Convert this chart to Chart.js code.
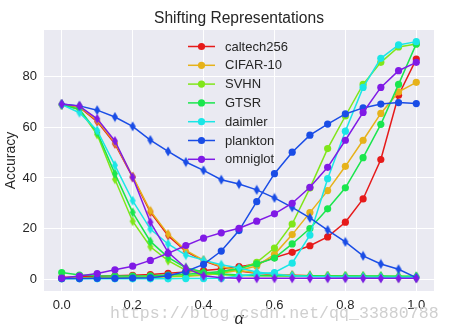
<!DOCTYPE html>
<html>
<head>
<meta charset="utf-8">
<title>Shifting Representations</title>
<script src="https://cdn.jsdelivr.net/npm/chart.js@4.4.0/dist/chart.umd.min.js"></script>
<style>
  html, body { margin: 0; padding: 0; background: #fff; }
  #wrap { position: relative; width: 451px; height: 334px; }
  #mark {
    position: absolute; left: 110px; top: 304px;
    font: 16.6px "Liberation Mono", monospace; color: #cfcfcf;
    white-space: nowrap; pointer-events: none;
  }
</style>
</head>
<body>
<div id="wrap">
  <canvas id="chart" width="451" height="334"></canvas>
  <div id="mark">https://blog.csdn.net/qq_33880788</div>
</div>
<script>
// ── Data ──────────────────────────────────────────────────
const alphas = [0, 0.05, 0.1, 0.15, 0.2, 0.25, 0.3, 0.35, 0.4, 0.45, 0.5,
                0.55, 0.6, 0.65, 0.7, 0.75, 0.8, 0.85, 0.9, 0.95, 1.0];
const xTicks = [0, 0.2, 0.4, 0.6, 0.8, 1.0];
const yTicks = [0, 20, 40, 60, 80];

const methods = ['caltech256', 'CIFAR-10', 'SVHN', 'GTSR', 'daimler', 'plankton', 'omniglot'];
const colors  = ['#e61a1a', '#e6b21a', '#80e61a', '#1ae64d', '#1ae6e6', '#1a4de6', '#801ae6'];

// accuracy rising with alpha (circle markers)
const caltech256Up = [0.6, 0.9, 1.1, 1.3, 1.5, 1.8, 2.3, 2.8, 3.4, 4.0, 4.9, 6.0, 8.5, 10.6, 13.2, 16.7, 22.5, 31.7, 47.3, 72.7, 87.0];
const cifar10Up    = [0.2, 0.3, 0.4, 0.5, 0.6, 0.7, 0.9, 1.1, 1.5, 2.3, 3.5, 5.2, 9.8, 17.6, 26.3, 35.0, 44.6, 54.9, 65.5, 74.0, 77.8];
const svhnUp       = [0.3, 0.4, 0.5, 0.6, 0.7, 0.8, 1.0, 1.3, 1.8, 2.6, 4.0, 6.6, 12.3, 21.8, 36.0, 51.6, 64.5, 77.0, 85.7, 91.8, 93.0];
const gtsrUp       = [2.6, 1.6, 1.3, 1.2, 1.2, 1.3, 1.6, 1.9, 2.4, 3.0, 4.2, 6.0, 8.3, 13.9, 20.0, 27.8, 36.1, 48.0, 61.2, 77.0, 93.0];
const daimlerUp    = [0.1, 0.1, 0.1, 0.1, 0.1, 0.1, 0.1, 0.2, 0.2, 0.3, 1.2, 2.0, 2.6, 6.3, 17.4, 39.7, 58.5, 75.8, 87.3, 92.6, 93.9];
const planktonUp   = [0.2, 0.2, 0.3, 0.3, 0.4, 0.5, 1.3, 3.0, 5.8, 11.1, 19.2, 30.6, 41.7, 50.2, 56.9, 61.3, 65.3, 67.7, 69.2, 69.8, 69.4];
const omniglotUp   = [0.4, 1.2, 2.2, 3.7, 5.1, 7.4, 10.2, 13.3, 16.2, 18.3, 20.1, 22.9, 25.8, 30.0, 36.3, 44.2, 54.9, 65.9, 75.8, 82.4, 85.7];

// accuracy falling with alpha (thin diamond markers)
const caltech256Down = [69.0, 68.0, 62.3, 53.5, 40.3, 26.5, 17.2, 11.0, 7.2, 4.8, 3.2, 2.3, 1.8, 1.5, 1.3, 1.1, 1.0, 0.9, 0.8, 0.7, 0.6];
const cifar10Down    = [69.0, 68.2, 62.8, 54.0, 40.6, 27.0, 17.8, 11.4, 7.5, 5.0, 3.4, 2.5, 1.9, 1.5, 1.3, 1.2, 1.1, 1.0, 0.9, 0.8, 0.7];
const svhnDown       = [69.0, 67.0, 57.2, 39.5, 22.9, 12.8, 7.3, 3.5, 2.3, 1.7, 1.4, 1.3, 1.3, 1.2, 1.2, 1.2, 1.2, 1.1, 1.1, 1.1, 1.0];
const gtsrDown       = [69.0, 67.2, 58.0, 41.7, 26.4, 14.9, 8.6, 4.5, 2.8, 2.0, 1.6, 1.4, 1.3, 1.3, 1.3, 1.2, 1.2, 1.2, 1.2, 1.1, 1.1];
const daimlerDown    = [69.0, 65.8, 58.8, 45.0, 31.0, 19.8, 13.9, 9.5, 7.5, 5.7, 4.4, 2.8, 1.9, 1.3, 1.0, 0.9, 0.8, 0.8, 0.7, 0.7, 0.7];
const planktonDown   = [69.2, 68.5, 66.8, 64.1, 60.4, 55.0, 50.5, 46.3, 43.0, 39.3, 37.6, 35.3, 32.1, 28.4, 24.2, 19.4, 14.7, 9.2, 6.0, 3.9, 0.6];
const omniglotDown   = [69.2, 68.4, 63.4, 54.6, 40.3, 22.5, 10.6, 4.4, 1.3, 0.5, 0.3, 0.3, 0.3, 0.3, 0.3, 0.3, 0.3, 0.3, 0.3, 0.3, 0.3];

const upSeries   = [caltech256Up, cifar10Up, svhnUp, gtsrUp, daimlerUp, planktonUp, omniglotUp];
const downSeries = [caltech256Down, cifar10Down, svhnDown, gtsrDown, daimlerDown, planktonDown, omniglotDown];

const TITLE = 'Shifting Representations';
const FONT = 'Liberation Sans';
const TEXT = '#262626';

// ── Thin diamond marker as a small canvas ─────────────────
function thinDiamond(color) {
    const c = document.createElement('canvas');
    c.width = 8; c.height = 11;
    const g = c.getContext('2d');
    g.fillStyle = color;
    g.beginPath();
    g.moveTo(4, 0.5); g.lineTo(7, 5.5); g.lineTo(4, 10.5); g.lineTo(1, 5.5);
    g.closePath();
    g.fill();
    return c;
}

const toPoints = arr => alphas.map((a, k) => ({ x: a, y: arr[k] }));

// one pair of lines per method; later methods end up on top
let datasets = [];
methods.forEach((m, i) => {
    datasets.push({
        label: m,
        data: toPoints(upSeries[i]),
        borderColor: colors[i], backgroundColor: colors[i],
        borderWidth: 1.5, pointStyle: 'circle', pointRadius: 3.6,
        pointBorderWidth: 0, tension: 0
    });
    datasets.push({
        label: m + ' down',
        data: toPoints(downSeries[i]),
        borderColor: colors[i], backgroundColor: colors[i],
        borderWidth: 1.5, pointStyle: thinDiamond(colors[i]), pointRadius: 4,
        tension: 0
    });
});
datasets = datasets.reverse();

// ── Plugins ───────────────────────────────────────────────
const plotBackground = {
    id: 'plotBackground',
    beforeDraw(chart) {
        const { ctx, chartArea: a } = chart;
        ctx.save();
        ctx.fillStyle = '#eaeaf2';
        ctx.fillRect(a.left, a.top, a.right - a.left, a.bottom - a.top);
        ctx.restore();
    }
};

// title centred over the plot area, not the whole canvas
const axesTitle = {
    id: 'axesTitle',
    afterDraw(chart) {
        const { ctx, chartArea: a } = chart;
        ctx.save();
        ctx.fillStyle = TEXT;
        ctx.font = '15.6px "' + FONT + '"';
        ctx.textAlign = 'center';
        ctx.textBaseline = 'middle';
        ctx.fillText(TITLE, (a.left + a.right) / 2, 19);
        ctx.restore();
    }
};

const lineLegend = {
    id: 'lineLegend',
    afterDatasetsDraw(chart) {
        const ctx = chart.ctx;
        ctx.save();
        methods.forEach((m, i) => {
            const y = 46.5 + i * 18.8;
            ctx.strokeStyle = colors[i];
            ctx.lineWidth = 1.5;
            ctx.beginPath(); ctx.moveTo(188, y); ctx.lineTo(215, y); ctx.stroke();
            ctx.fillStyle = colors[i];
            ctx.beginPath(); ctx.arc(201.5, y, 3.6, 0, Math.PI * 2); ctx.fill();
            ctx.fillStyle = TEXT;
            ctx.font = '13px "' + FONT + '"';
            ctx.textBaseline = 'middle';
            ctx.fillText(m, 225, y + 0.5);
        });
        ctx.restore();
    }
};

// ── Chart ─────────────────────────────────────────────────
new Chart(document.getElementById('chart'), {
    type: 'line',
    data: { datasets: datasets },
    plugins: [plotBackground, lineLegend, axesTitle],
    options: {
        responsive: false,
        animation: false,
        layout: { padding: { left: 0, right: 17, top: 30, bottom: 0 } },
        plugins: {
            legend: { display: false },
            tooltip: { enabled: false },
            title: { display: false }
        },
        scales: {
            x: {
                type: 'linear', min: -0.05, max: 1.05,
                afterBuildTicks: s => { s.ticks = xTicks.map(v => ({ value: v })); },
                afterFit: s => { s.height = 43; },
                grid: { color: '#ffffff', lineWidth: 1, drawTicks: false },
                border: { display: false },
                ticks: {
                    padding: 7, color: TEXT, maxRotation: 0,
                    font: { family: FONT, size: 13 },
                    callback: v => v.toFixed(1)
                },
                title: {
                    display: true, text: 'α', color: TEXT,
                    font: { family: FONT, size: 16, style: 'italic' },
                    padding: { top: 0, bottom: 5 }
                }
            },
            y: {
                min: -4.7, max: 98.5,
                afterBuildTicks: s => { s.ticks = yTicks.map(v => ({ value: v })); },
                afterFit: s => { s.width = 44; },
                grid: { color: '#ffffff', lineWidth: 1, drawTicks: false },
                border: { display: false },
                ticks: {
                    padding: 7, color: TEXT,
                    font: { family: FONT, size: 13 }
                },
                title: {
                    display: true, text: 'Accuracy', color: TEXT,
                    font: { family: FONT, size: 14 },
                    padding: { top: 3, bottom: 0 }
                }
            }
        }
    }
});
</script>
</body>
</html>
